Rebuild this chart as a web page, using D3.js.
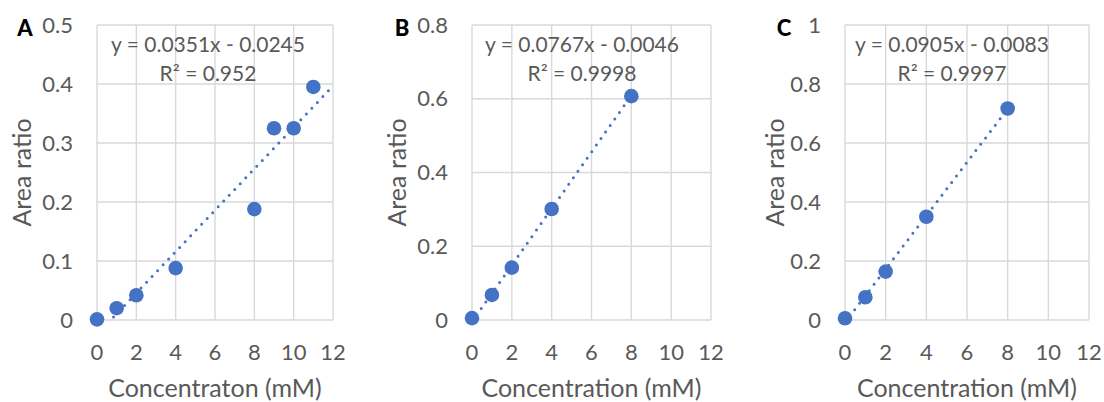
<!DOCTYPE html>
<html>
<head>
<meta charset="utf-8">
<script src="https://cdn.jsdelivr.net/npm/d3@7"></script>
<style>
  html, body { margin: 0; padding: 0; background: #fff; }
  svg { display: block; }
  text { font-family: Lato, "Open Sans", sans-serif; fill: #595959; }
</style>
</head>
<body>
<svg id="chart" width="1104" height="402"></svg>
<script>
// Calibration data: concentration (mM) vs. peak area ratio for three analytes
const panelLetters = ["A", "B", "C"];

const concA = [0, 1, 2, 4, 8, 9, 10, 11];
const ratioA = [0.001, 0.020, 0.042, 0.088, 0.188, 0.325, 0.325, 0.395];

const concB = [0, 1, 2, 4, 8];
const ratioB = [0.005, 0.068, 0.142, 0.301, 0.607];

const concC = [0, 1, 2, 4, 8];
const ratioC = [0.006, 0.077, 0.164, 0.350, 0.717];

// Linear fits (y = slope * x + intercept) and their R² values
const slopes = [0.0351, 0.0767, 0.0905];
const intercepts = [-0.0245, -0.0046, -0.0083];
const r2Labels = ["0.952", "0.9998", "0.9997"];
const trendRanges = [[0, 12], [0, 8], [0, 8]];

// Axis ticks and titles
const xTicks = [0, 2, 4, 6, 8, 10, 12];
const yTicksA = [0, 0.1, 0.2, 0.3, 0.4, 0.5];
const yTicksB = [0, 0.2, 0.4, 0.6, 0.8];
const yTicksC = [0, 0.2, 0.4, 0.6, 0.8, 1];
const xTitles = ["Concentraton (mM)", "Concentration (mM)", "Concentration (mM)"];
const yTitle = "Area ratio";

const seriesX = [concA, concB, concC];
const seriesY = [ratioA, ratioB, ratioC];
const yTickSets = [yTicksA, yTicksB, yTicksC];

// Panel geometry
const layout = [
  { left: 97,  right: 333,  yTitleX: 22,  letterX: 25,  eqX: 208 },
  { left: 472, right: 711,  yTitleX: 397, letterX: 402, eqX: 582 },
  { left: 845, right: 1089, yTitleX: 775, letterX: 784, eqX: 952 }
];
const plotTop = 25, plotBottom = 320;

const blue = "#4472C4";
const gridColor = "#d9d9d9";
const tickSize = 22, titleSize = 25, eqSize = 21;

const svg = d3.select("#chart");

layout.forEach((L, i) => {
  const yTicks = yTickSets[i];
  const x = d3.scaleLinear().domain([xTicks[0], xTicks[xTicks.length - 1]]).range([L.left, L.right]);
  const y = d3.scaleLinear().domain([yTicks[0], yTicks[yTicks.length - 1]]).range([plotBottom, plotTop]);
  const g = svg.append("g");

  // gridlines (also form the plot frame)
  g.selectAll("line.vgrid").data(xTicks).join("line")
    .attr("x1", d => x(d)).attr("x2", d => x(d))
    .attr("y1", plotTop).attr("y2", plotBottom)
    .attr("stroke", gridColor).attr("stroke-width", 1.4);
  g.selectAll("line.hgrid").data(yTicks).join("line")
    .attr("y1", d => y(d)).attr("y2", d => y(d))
    .attr("x1", L.left).attr("x2", L.right)
    .attr("stroke", gridColor).attr("stroke-width", 1.4);

  // x tick labels
  g.selectAll("text.xt").data(xTicks).join("text")
    .attr("x", d => x(d)).attr("y", 360)
    .attr("text-anchor", "middle").attr("font-size", tickSize)
    .text(d => String(d));

  // y tick labels
  g.selectAll("text.yt").data(yTicks).join("text")
    .attr("x", L.left - 24).attr("y", d => y(d) + 7.5)
    .attr("text-anchor", "end").attr("font-size", tickSize)
    .text(d => String(d));

  // axis titles
  g.append("text")
    .attr("x", (L.left + L.right) / 2).attr("y", 397)
    .attr("text-anchor", "middle").attr("font-size", titleSize)
    .text(xTitles[i]);
  g.append("text")
    .attr("transform", `translate(${L.yTitleX + 9},${(plotTop + plotBottom) / 2}) rotate(-90)`)
    .attr("text-anchor", "middle").attr("font-size", titleSize)
    .text(yTitle);

  // panel letter
  g.append("text")
    .attr("x", L.letterX).attr("y", 35.5)
    .attr("text-anchor", "middle").attr("font-size", 22).attr("font-weight", 900)
    .style("fill", "#000")
    .text(panelLetters[i]);

  // dotted linear trendline, clipped to the plot area
  const clipId = "clip" + i;
  svg.append("clipPath").attr("id", clipId).append("rect")
    .attr("x", L.left).attr("y", plotTop)
    .attr("width", L.right - L.left).attr("height", plotBottom - plotTop);
  const fit = v => slopes[i] * v + intercepts[i];
  const tr = trendRanges[i];
  g.append("path")
    .attr("clip-path", `url(#${clipId})`)
    .attr("d", d3.line().x(d => x(d)).y(d => y(fit(d)))(tr))
    .attr("fill", "none").attr("stroke", blue)
    .attr("stroke-width", 3).attr("stroke-linecap", "round")
    .attr("stroke-dasharray", "0 8");

  // data points
  g.selectAll("circle").data(seriesX[i].map((v, k) => [v, seriesY[i][k]])).join("circle")
    .attr("cx", d => x(d[0])).attr("cy", d => y(d[1]))
    .attr("r", 7.3).attr("fill", blue);

  // fit equation and R²
  const sign = intercepts[i] < 0 ? "-" : "+";
  g.append("text")
    .attr("x", L.eqX).attr("y", 52)
    .attr("text-anchor", "middle").attr("font-size", eqSize)
    .text(`y = ${slopes[i].toFixed(4)}x ${sign} ${Math.abs(intercepts[i]).toFixed(4)}`);
  g.append("text")
    .attr("x", L.eqX).attr("y", 81)
    .attr("text-anchor", "middle").attr("font-size", eqSize)
    .text(`R² = ${r2Labels[i]}`);
});
</script>
</body>
</html>
